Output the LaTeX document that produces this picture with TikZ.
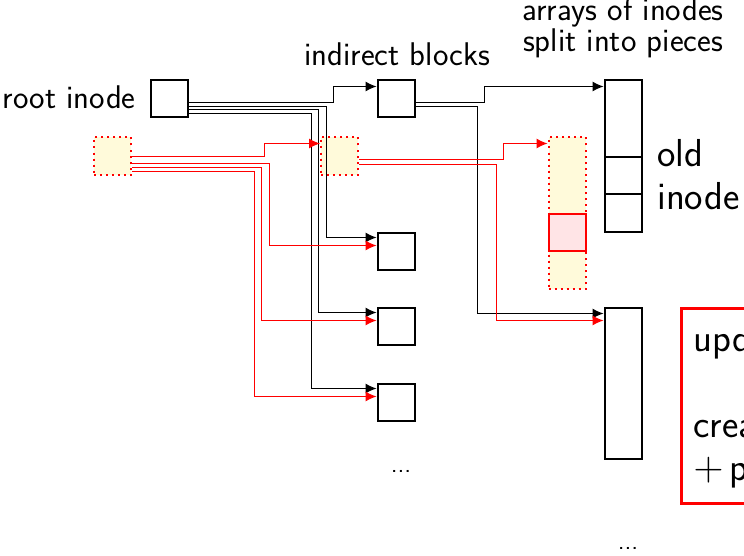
\documentclass[tikz,border=0pt]{standalone}
\usepackage{tikz}
\usetikzlibrary{calc}
\usetikzlibrary{arrows.meta,positioning}
\definecolor{newyellow}{RGB}{255,250,218}
\definecolor{newpink}{RGB}{255,228,230}

\begin{document}
\begin{tikzpicture}[x=0.5pt,y=-0.5pt,>={Latex[length=5.5pt,width=5pt]}, every node/.style={font=\sffamily\fontsize{16.4}{14}\selectfont}]
    \tikzset{blk/.style={draw,line width=1pt,minimum size=18.5pt,inner sep=0pt}}
    \tikzset{newblk/.style={draw=red,dotted,line width=1pt,fill=newyellow,minimum size=18.5pt,inner sep=0pt}}
    \tikzset{arr/.style={blk,minimum height=75.5pt}}
    \tikzset{ptr/.style={->,line width=0.5pt}}
    \tikzset{newptr/.style={->,line width=0.5pt,red}}
    \tikzset{big/.style={font=\sffamily\fontsize{19.5}{21.5}\selectfont}}
    \tikzset{etc/.style={font=\sffamily\fontsize{12.5}{14}\selectfont,anchor=base}}
    \useasboundingbox (0,0) rectangle (744,556);

    % old tree
    \node[blk] (root) at (169,99) {};
    \node[anchor=base east,inner sep=0pt] (rootlbl) at (136,109) {root inode};
    \node[blk] (ind) at (396,99) {};
    \node[anchor=base] (indlbl) at (397,66) {indirect blocks};
    \node[blk] (blk1) at (396,251) {};
    \node[blk] (blk2) at (396,326) {};
    \node[blk] (blk3) at (396,402) {};
    \node[etc] (blkdots) at (401,472) {...};

    % inode arrays
    \node[arr] (arrA) at (623,156) {};
    \node[blk] (oldino) at (623,175) {};
    \node[big,anchor=base west,align=left,inner sep=0pt] (oldlbl) at (657,209) {old\\inode};
    \node[arr] (arrB) at (623,383) {};
    \node[etc] (arrdots) at (628,549) {...};
    \node[anchor=base,align=center] (arrlbl) at (623,52) {arrays of inodes\\split into pieces};

    % new copies
    \node[newblk] (fresh) at (112.5,156) {};
    \node[newblk] (freshind) at (339.5,156) {};
    \node[newblk,minimum height=75.5pt] (newarr) at (567,213) {};
    \node[blk,draw=red,fill=newpink] (newino) at (567,232) {};

    % pointers from the old root
    \draw[ptr] ($(root.east)+(0,4)$) -- ++(145,0) |- ($(ind.north west)+(0,7)$);
    \draw[ptr] ($(root.east)+(0,7.5)$) -- ++(138,0) |- ($(blk1.north west)+(0,6)$);
    \draw[ptr] ($(root.east)+(0,11)$) -- ++(130,0) |- ($(blk2.north west)+(0,6)$);
    \draw[ptr] ($(root.east)+(0,14.5)$) -- ++(123,0) |- ($(blk3.north west)+(0,6)$);
    \draw[ptr] ($(ind.east)+(0,4)$) -- ++(69,0) |- ($(arrA.north west)+(0,7)$);
    \draw[ptr] ($(ind.east)+(0,8)$) -- ++(62,0) |- ($(arrB.north west)+(0,7)$);

    % pointers from the new root
    \draw[newptr] (fresh.east) -- ++(132,0) |- ($(freshind.north west)+(0,7)$);
    \draw[newptr] ($(fresh.east)+(0,7)$) -- ++(137,0) |- ($(blk1.north west)+(0,14)$);
    \draw[newptr] ($(fresh.east)+(0,11)$) -- ++(129,0) |- ($(blk2.north west)+(0,14)$);
    \draw[newptr] ($(fresh.east)+(0,15)$) -- ++(122,0) |- ($(blk3.north west)+(0,14)$);
    \draw[newptr] ($(freshind.east)+(0,3)$) -- ++(144,0) |- ($(newarr.north west)+(0,7)$);
    \draw[newptr] ($(freshind.east)+(0,8)$) -- ++(137,0) |- ($(arrB.north west)+(0,14)$);

    % note
    \node[draw=red,line width=1.5pt,anchor=north west,minimum height=97.5pt,text width=60pt,
          inner xsep=6pt,inner ysep=0pt,big,align=left] (note) at (680,307)
          {upd\\\mbox{}\\crea\\$+$\,p};
\end{tikzpicture}
\end{document}
